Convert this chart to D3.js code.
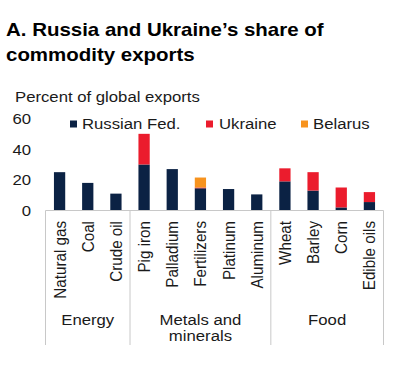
<!DOCTYPE html>
<html><head><meta charset="utf-8">
<script src="https://cdn.jsdelivr.net/npm/d3@7"></script>
<style>body{margin:0;background:#fff;} text{font-family:"Liberation Sans",Arial,sans-serif;}</style>
</head><body><svg id="c" width="401" height="380"></svg>
<script>
const categories = ["Natural gas","Coal","Crude oil","Pig iron","Palladium","Fertilizers","Platinum","Aluminum","Wheat","Barley","Corn","Edible oils"];
const russia  = [25, 18, 11, 30, 27, 14.5, 14, 10.5, 19, 13, 2, 5.5];
const ukraine = [0, 0, 0, 20, 0, 0.5, 0, 0, 8.5, 12, 13, 6.5];
const belarus = [0, 0, 0, 0, 0, 6.5, 0, 0, 0, 0, 0, 0];
const groups = [
  {name:["Energy"], first:"Natural gas", last:"Crude oil"},
  {name:["Metals and","minerals"], first:"Pig iron", last:"Aluminum"},
  {name:["Food"], first:"Wheat", last:"Edible oils"}
];
const seriesNames = ["Russian Fed.","Ukraine","Belarus"];
const yTicks = [0,20,40,60];
const colors = ["#0b2244","#eb1c2d","#f7931e"];

const svg = d3.select("#c");
const SX = 1.1;
const txt = "#1a1a1a";

function htext(x, y, s, opts={}) {
  return svg.append("text")
    .attr("transform", `translate(${x},${y}) scale(${SX},1)`)
    .attr("text-anchor", opts.anchor || "start")
    .attr("font-size", opts.size || 15)
    .attr("font-weight", opts.weight || "normal")
    .attr("fill", opts.fill || txt)
    .text(s);
}

// Title
htext(6, 36, "A. Russia and Ukraine\u2019s share of", {size:18.6, weight:"bold", fill:"#000"});
htext(6, 60.5, "commodity exports", {size:18.6, weight:"bold", fill:"#000"});
htext(15, 102, "Percent of global exports", {size:15.2});

const x = d3.scaleBand().domain(categories).range([45.5, 383.5]).paddingInner(0.6).paddingOuter(0.3);
const y = d3.scaleLinear().domain([0,60]).range([210.5, 118.5]);

// y tick labels
yTicks.forEach(t => htext(31, y(t) + 5.5, String(t), {anchor:"end", size:15.2}));

// stacked bars
const rows = categories.map((c,i) => ({cat:c, s0:russia[i], s1:ukraine[i], s2:belarus[i]}));
const stack = d3.stack().keys(["s0","s1","s2"])(rows);
stack.forEach((layer, k) => {
  svg.append("g").attr("fill", colors[k]).selectAll("rect")
    .data(layer.filter(d => d[1] - d[0] > 0))
    .join("rect")
    .attr("x", d => x(d.data.cat))
    .attr("width", x.bandwidth())
    .attr("y", d => y(d[1]))
    .attr("height", d => y(d[0]) - y(d[1]));
});

// baseline and separators
const gap = (x.step() - x.bandwidth())/2;
const left = x(categories[0]) - gap;
const right = x(categories[categories.length-1]) + x.bandwidth() + gap;
svg.append("line").attr("x1", left).attr("x2", right).attr("y1", 210.5).attr("y2", 210.5)
  .attr("stroke", "#c8c8c8").attr("stroke-width", 1);
const seps = [left].concat(groups.map(g => x(g.last) + x.bandwidth() + gap));
seps.forEach(sx => {
  svg.append("line").attr("x1", sx).attr("x2", sx).attr("y1", 210.5).attr("y2", 345)
    .attr("stroke", "#c8c8c8").attr("stroke-width", 1);
});

// category labels (rotated)
categories.forEach(c => {
  svg.append("text")
    .attr("transform", `translate(${x(c) + x.bandwidth()/2},221) scale(${SX},1) rotate(-90)`)
    .attr("text-anchor", "end")
    .attr("dy", "0.36em")
    .attr("font-size", 15.2)
    .attr("fill", txt)
    .text(c);
});

// group labels
groups.forEach(g => {
  const gx = (x(g.first) - gap + x(g.last) + x.bandwidth() + gap)/2;
  g.name.forEach((line, j) => htext(gx, 325 + j*15.5, line, {anchor:"middle", size:15.2}));
});

// legend
const legend = [{x:70, tx:82},{x:206, tx:219},{x:301, tx:313}];
seriesNames.forEach((n,i) => {
  svg.append("rect").attr("x", legend[i].x).attr("y", 120.5).attr("width", 7).attr("height", 7).attr("fill", colors[i]);
  htext(legend[i].tx, 128.5, n, {size:15.2});
});
</script></body></html>
